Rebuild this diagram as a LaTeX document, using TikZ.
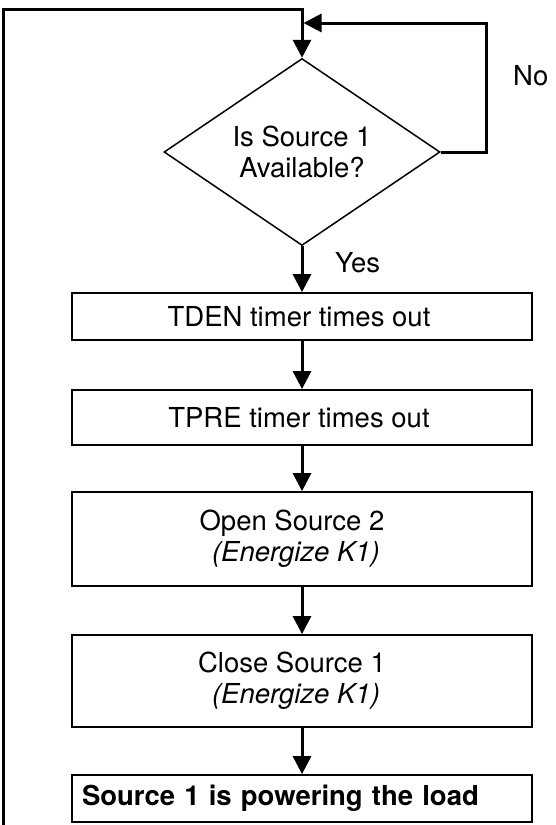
\documentclass[tikz,border=0pt]{standalone}
\usepackage{fontspec}
\setmainfont{TeX Gyre Heros}
\usetikzlibrary{shapes.geometric,arrows.meta}

\begin{document}
\begin{tikzpicture}[x=1pt,y=-1pt,
  txt/.style={font=\fontsize{27.5}{31}\selectfont},
  flow/.style={line width=3pt, line join=miter},
  arr/.style={flow, -{Triangle[length=18pt,width=18pt]}},
  stepbox/.style={draw, line width=1.8pt, minimum width=460pt, inner sep=0pt,
    align=center, txt},
  decision/.style={draw, diamond, line width=1.5pt, minimum width=276pt,
    minimum height=187pt, inner sep=0pt, shape aspect=1.476, align=center, txt},
  lbl/.style={inner sep=0pt, anchor=base west, txt}
]
\useasboundingbox (0,0) rectangle (556,825);

% decision and process steps
\node[decision] (dec) at (302,152) {Is Source 1\\Available?};
\node[stepbox, minimum height=47pt] (tden) at (302,316.5) {\hspace*{-6pt}TDEN timer times out};
\node[stepbox, minimum height=55pt] (tpre) at (302,417.5) {\hspace*{-6pt}TPRE timer times out};
\node[stepbox, minimum height=94pt] (open) at (302,539)
  {\hspace*{-20pt}Open Source 2\\\hspace*{-12pt}\textit{(Energize K1)}};
\node[stepbox, minimum height=92pt] (close) at (302,681)
  {\hspace*{-20pt}Close Source 1\\\hspace*{-12pt}\textit{(Energize K1)}};
\node[stepbox, minimum height=47pt, text width=440pt, align=left, inner xsep=10pt,
  font=\fontsize{27.5}{31}\selectfont\bfseries] (load) at (302,798.5) {Source 1 is powering the load};

% branch labels
\node[lbl] (no) at (513,85) {No};
\node[lbl] (yes) at (335,272) {Yes};

% loop corners
\coordinate (retBot) at (3.5,826);
\coordinate (retTop) at (3.5,9);
\coordinate (join) at (302,9);
\coordinate (noTop) at (486,23);
\coordinate (noBot) at (486,152);
\coordinate (entry) at (303.5,23);

% main flow
\draw[arr] (dec.south) -- (tden.north);
\draw[arr] (tden.south) -- (tpre.north);
\draw[arr] (tpre.south) -- (open.north);
\draw[arr] (open.south) -- (close.north);
\draw[arr] (close.south) -- (load.north);

% return line and "No" loop
\draw[arr] (retBot) -- (retTop) -- (join) -- (dec.north);
\draw[arr] (dec.east) -- (noBot) -- (noTop) -- (entry);
\end{tikzpicture}
\end{document}
